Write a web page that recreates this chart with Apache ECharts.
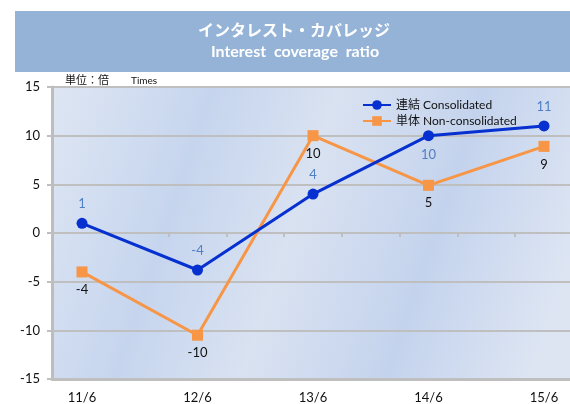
<!DOCTYPE html>
<html><head><meta charset="utf-8">
<script src="https://cdn.jsdelivr.net/npm/echarts@6/dist/echarts.min.js"></script>
<style>html,body{margin:0;padding:0;background:#fff}#c{width:570px;height:404px}</style>
</head><body><div id="c"></div>
<script>
const categories = ['11/6', '12/6', '13/6', '14/6', '15/6'];
const consolidated = [1, -3.8, 4, 10, 11];
const nonConsolidated = [-4, -10.5, 10, 4.9, 8.9];
const yTicks = [-15, -10, -5, 0, 5, 10, 15];
const consolidatedLabelPos = ['top', 'top', 'top', 'bottom', 'top'];

const FONT = 'Lato, "Noto Sans CJK JP", sans-serif';
const chart = echarts.init(document.getElementById('c'));
const idx = categories.map((c, i) => i);

chart.setOption({
  animation: false,
  textStyle: { fontFamily: FONT },
  graphic: [
    { type: 'rect', shape: { x: 15, y: 11, width: 555, height: 61 }, style: { fill: '#95B3D7' }, silent: true },
    { type: 'text', x: 294, y: 30, style: { text: 'インタレスト・カバレッジ', fill: '#fff', font: 'bold 16px "Noto Sans CJK JP"', textAlign: 'center', textVerticalAlign: 'middle' } },
    { type: 'text', x: 295, y: 52, style: { text: 'Interest  coverage  ratio', fill: '#fff', font: 'bold 16px ' + FONT, textAlign: 'center', textVerticalAlign: 'middle' } },
    { type: 'text', x: 65, y: 80, style: { text: '単位：倍', fill: '#111', font: '11px "Noto Sans CJK JP"', textAlign: 'left', textVerticalAlign: 'middle' } },
    { type: 'text', x: 131, y: 81, style: { text: 'Times', fill: '#111', font: '10px ' + FONT, textAlign: 'left', textVerticalAlign: 'middle' } }
  ],
  grid: {
    left: 52, right: 0, top: 87, bottom: 25,
    show: true, borderWidth: 0,
    backgroundColor: {
      type: 'linear', x: 0, y: 0, x2: 1, y2: 0.6,
      colorStops: [
        { offset: 0, color: '#DEE6F3' },
        { offset: 0.28, color: '#C6D5EE' },
        { offset: 0.5, color: '#D9E2F1' },
        { offset: 0.75, color: '#C4D3ED' },
        { offset: 1, color: '#DDE5F3' }
      ]
    }
  },
  legend: {
    orient: 'vertical', left: 357, top: 94, itemWidth: 28, itemHeight: 12, itemGap: 4,
    textStyle: { fontFamily: FONT, fontSize: 12, color: '#111' },
    data: ['連結 Consolidated', '単体 Non-consolidated']
  },
  xAxis: [
    {
      type: 'value', min: -0.26, max: 4.225,
      axisLine: { show: true, onZero: false, lineStyle: { color: '#BFBFBF', width: 3 } },
      axisTick: { show: false },
      splitLine: { show: false },
      axisLabel: {
        customValues: idx, fontSize: 13, color: '#111', margin: 12, fontFamily: FONT,
        formatter: v => categories[Math.round(v)]
      }
    },
    {
      type: 'value', min: -0.26, max: 4.225, position: 'bottom',
      axisLine: { show: true, onZero: true, lineStyle: { color: '#BFBFBF', width: 2 } },
      axisTick: { show: true, inside: false, length: 4, customValues: [0.25, 0.75, 1.25, 1.75, 2.25, 2.75, 3.25, 3.75], lineStyle: { color: '#BFBFBF', width: 2 } },
      axisLabel: { show: false },
      splitLine: { show: false }
    }
  ],
  yAxis: {
    type: 'value', min: -15, max: 15, interval: 5, position: 'left',
    axisLine: { show: true, onZero: false, lineStyle: { color: '#BDBDBD', width: 3 } },
    axisTick: { show: true, length: 5, lineStyle: { color: '#BFBFBF', width: 2 } },
    splitLine: { show: true, lineStyle: { color: '#BFBFBF', width: 2 } },
    axisLabel: { fontSize: 13, color: '#111', margin: 12, fontFamily: FONT,
      customValues: yTicks }
  },
  series: [
    {
      name: '連結 Consolidated', type: 'line', xAxisIndex: 0, z: 4,
      data: consolidated.map((v, i) => ({ value: [i, v], label: { position: consolidatedLabelPos[i] } })),
      symbol: 'circle', symbolSize: 11,
      lineStyle: { color: '#0630CF', width: 3 },
      itemStyle: { color: '#0630CF' },
      label: { show: true, fontSize: 13, color: '#4F7FC4', distance: 7, fontFamily: FONT,
        formatter: p => Math.round(p.value[1]) }
    },
    {
      name: '単体 Non-consolidated', type: 'line', xAxisIndex: 0, z: 3,
      data: nonConsolidated.map((v, i) => [i, v]),
      symbol: 'rect', symbolSize: 11,
      lineStyle: { color: '#F79646', width: 3 },
      itemStyle: { color: '#F79646' },
      label: { show: true, position: 'bottom', fontSize: 13, color: '#111', distance: 6, fontFamily: FONT,
        formatter: p => Math.round(p.value[1]) }
    }
  ]
});
</script></body></html>
